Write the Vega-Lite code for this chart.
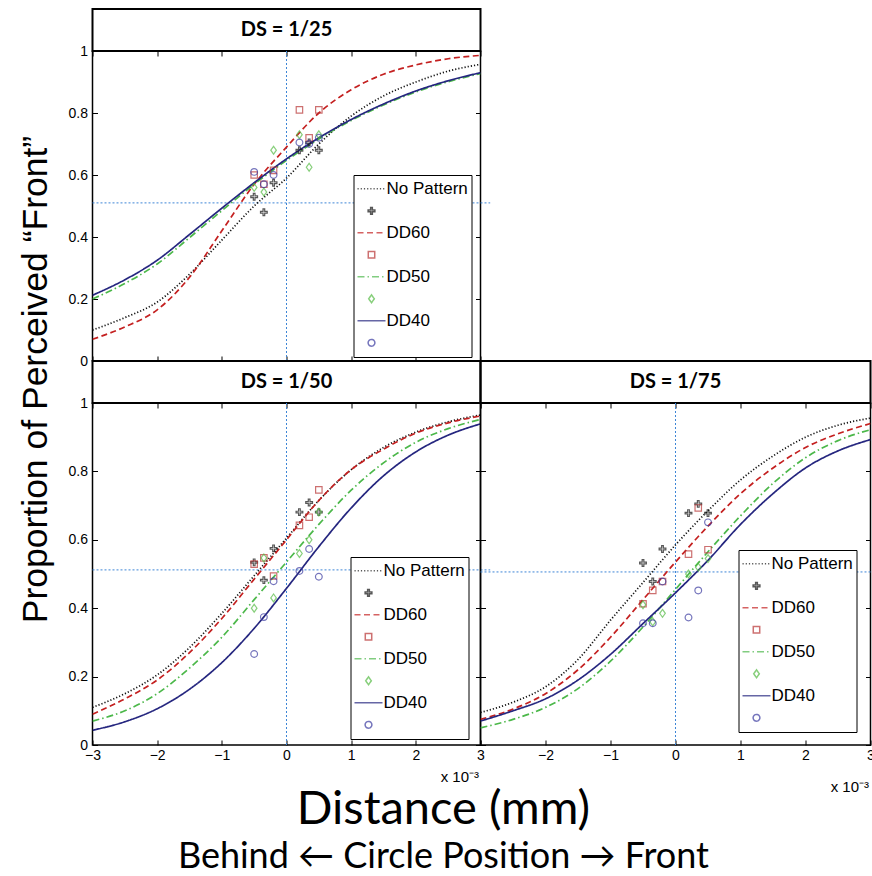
{
"$schema": "https://vega.github.io/schema/vega-lite/v6.json",
"background": "white",
"padding": {"left": 17.5, "top": 8, "right": 2, "bottom": 2},
"config": {
 "view": {"stroke": "black", "strokeWidth": 1.5},
 "axis": {"labelFont": "Liberation Sans", "labelFontSize": 14, "labelColor": "black", "tickColor": "black", "tickWidth": 1, "grid": false, "labelFlush": false, "labelOverlap": false, "domain": false},
 "legend": {"strokeColor": "black", "fillColor": "white", "padding": 3, "labelFont": "Liberation Sans", "labelFontSize": 17, "labelColor": "black", "labelOffset": 0, "symbolSize": 784, "symbolStrokeWidth": 1.5, "rowPadding": 0, "clipHeight": 21.6, "symbolFillColor": "transparent", "labelLimit": 300}
},
"datasets": {
 "curves": [
  {"p":"25","s":"No Pattern","x":-3,"y":0.10},{"p":"25","s":"No Pattern","x":-2.5,"y":0.14},{"p":"25","s":"No Pattern","x":-2,"y":0.19},{"p":"25","s":"No Pattern","x":-1.5,"y":0.28},{"p":"25","s":"No Pattern","x":-1,"y":0.39},{"p":"25","s":"No Pattern","x":-0.5,"y":0.50},{"p":"25","s":"No Pattern","x":0,"y":0.59},{"p":"25","s":"No Pattern","x":0.5,"y":0.70},{"p":"25","s":"No Pattern","x":1,"y":0.79},{"p":"25","s":"No Pattern","x":1.5,"y":0.855},{"p":"25","s":"No Pattern","x":2,"y":0.90},{"p":"25","s":"No Pattern","x":2.5,"y":0.935},{"p":"25","s":"No Pattern","x":3,"y":0.957},
  {"p":"25","s":"DD60","x":-3,"y":0.07},{"p":"25","s":"DD60","x":-2.5,"y":0.11},{"p":"25","s":"DD60","x":-2,"y":0.165},{"p":"25","s":"DD60","x":-1.5,"y":0.27},{"p":"25","s":"DD60","x":-1,"y":0.42},{"p":"25","s":"DD60","x":-0.5,"y":0.57},{"p":"25","s":"DD60","x":0,"y":0.69},{"p":"25","s":"DD60","x":0.5,"y":0.80},{"p":"25","s":"DD60","x":1,"y":0.875},{"p":"25","s":"DD60","x":1.5,"y":0.925},{"p":"25","s":"DD60","x":2,"y":0.955},{"p":"25","s":"DD60","x":2.5,"y":0.975},{"p":"25","s":"DD60","x":3,"y":0.986},
  {"p":"25","s":"DD50","x":-3,"y":0.20},{"p":"25","s":"DD50","x":-2.5,"y":0.25},{"p":"25","s":"DD50","x":-2,"y":0.313},{"p":"25","s":"DD50","x":-1.5,"y":0.398},{"p":"25","s":"DD50","x":-1,"y":0.485},{"p":"25","s":"DD50","x":-0.5,"y":0.57},{"p":"25","s":"DD50","x":0,"y":0.647},{"p":"25","s":"DD50","x":0.5,"y":0.716},{"p":"25","s":"DD50","x":1,"y":0.776},{"p":"25","s":"DD50","x":1.5,"y":0.826},{"p":"25","s":"DD50","x":2,"y":0.868},{"p":"25","s":"DD50","x":2.5,"y":0.901},{"p":"25","s":"DD50","x":3,"y":0.927},
  {"p":"25","s":"DD40","x":-3,"y":0.212},{"p":"25","s":"DD40","x":-2.5,"y":0.262},{"p":"25","s":"DD40","x":-2,"y":0.325},{"p":"25","s":"DD40","x":-1.5,"y":0.408},{"p":"25","s":"DD40","x":-1,"y":0.493},{"p":"25","s":"DD40","x":-0.5,"y":0.575},{"p":"25","s":"DD40","x":0,"y":0.652},{"p":"25","s":"DD40","x":0.5,"y":0.72},{"p":"25","s":"DD40","x":1,"y":0.779},{"p":"25","s":"DD40","x":1.5,"y":0.829},{"p":"25","s":"DD40","x":2,"y":0.871},{"p":"25","s":"DD40","x":2.5,"y":0.904},{"p":"25","s":"DD40","x":3,"y":0.93},
  {"p":"50","s":"No Pattern","x":-3,"y":0.11},{"p":"50","s":"No Pattern","x":-2.5,"y":0.15},{"p":"50","s":"No Pattern","x":-2,"y":0.205},{"p":"50","s":"No Pattern","x":-1.5,"y":0.285},{"p":"50","s":"No Pattern","x":-1,"y":0.385},{"p":"50","s":"No Pattern","x":-0.5,"y":0.495},{"p":"50","s":"No Pattern","x":0,"y":0.605},{"p":"50","s":"No Pattern","x":0.5,"y":0.715},{"p":"50","s":"No Pattern","x":1,"y":0.805},{"p":"50","s":"No Pattern","x":1.5,"y":0.87},{"p":"50","s":"No Pattern","x":2,"y":0.915},{"p":"50","s":"No Pattern","x":2.5,"y":0.945},{"p":"50","s":"No Pattern","x":3,"y":0.965},
  {"p":"50","s":"DD60","x":-3,"y":0.09},{"p":"50","s":"DD60","x":-2.5,"y":0.135},{"p":"50","s":"DD60","x":-2,"y":0.19},{"p":"50","s":"DD60","x":-1.5,"y":0.27},{"p":"50","s":"DD60","x":-1,"y":0.37},{"p":"50","s":"DD60","x":-0.5,"y":0.485},{"p":"50","s":"DD60","x":0,"y":0.60},{"p":"50","s":"DD60","x":0.5,"y":0.715},{"p":"50","s":"DD60","x":1,"y":0.805},{"p":"50","s":"DD60","x":1.5,"y":0.865},{"p":"50","s":"DD60","x":2,"y":0.912},{"p":"50","s":"DD60","x":2.5,"y":0.942},{"p":"50","s":"DD60","x":3,"y":0.962},
  {"p":"50","s":"DD50","x":-3,"y":0.07},{"p":"50","s":"DD50","x":-2.5,"y":0.10},{"p":"50","s":"DD50","x":-2,"y":0.15},{"p":"50","s":"DD50","x":-1.5,"y":0.225},{"p":"50","s":"DD50","x":-1,"y":0.315},{"p":"50","s":"DD50","x":-0.5,"y":0.425},{"p":"50","s":"DD50","x":0,"y":0.535},{"p":"50","s":"DD50","x":0.5,"y":0.645},{"p":"50","s":"DD50","x":1,"y":0.745},{"p":"50","s":"DD50","x":1.5,"y":0.825},{"p":"50","s":"DD50","x":2,"y":0.885},{"p":"50","s":"DD50","x":2.5,"y":0.925},{"p":"50","s":"DD50","x":3,"y":0.952},
  {"p":"50","s":"DD40","x":-3,"y":0.043},{"p":"50","s":"DD40","x":-2.5,"y":0.068},{"p":"50","s":"DD40","x":-2,"y":0.106},{"p":"50","s":"DD40","x":-1.5,"y":0.163},{"p":"50","s":"DD40","x":-1,"y":0.241},{"p":"50","s":"DD40","x":-0.5,"y":0.341},{"p":"50","s":"DD40","x":0,"y":0.458},{"p":"50","s":"DD40","x":0.5,"y":0.58},{"p":"50","s":"DD40","x":1,"y":0.693},{"p":"50","s":"DD40","x":1.5,"y":0.787},{"p":"50","s":"DD40","x":2,"y":0.857},{"p":"50","s":"DD40","x":2.5,"y":0.906},{"p":"50","s":"DD40","x":3,"y":0.939},
  {"p":"75","s":"No Pattern","x":-3,"y":0.095},{"p":"75","s":"No Pattern","x":-2.5,"y":0.125},{"p":"75","s":"No Pattern","x":-2,"y":0.17},{"p":"75","s":"No Pattern","x":-1.5,"y":0.25},{"p":"75","s":"No Pattern","x":-1,"y":0.365},{"p":"75","s":"No Pattern","x":-0.5,"y":0.475},{"p":"75","s":"No Pattern","x":0,"y":0.585},{"p":"75","s":"No Pattern","x":0.5,"y":0.685},{"p":"75","s":"No Pattern","x":1,"y":0.775},{"p":"75","s":"No Pattern","x":1.5,"y":0.845},{"p":"75","s":"No Pattern","x":2,"y":0.90},{"p":"75","s":"No Pattern","x":2.5,"y":0.935},{"p":"75","s":"No Pattern","x":3,"y":0.956},
  {"p":"75","s":"DD60","x":-3,"y":0.075},{"p":"75","s":"DD60","x":-2.5,"y":0.105},{"p":"75","s":"DD60","x":-2,"y":0.15},{"p":"75","s":"DD60","x":-1.5,"y":0.22},{"p":"75","s":"DD60","x":-1,"y":0.315},{"p":"75","s":"DD60","x":-0.5,"y":0.425},{"p":"75","s":"DD60","x":0,"y":0.535},{"p":"75","s":"DD60","x":0.5,"y":0.64},{"p":"75","s":"DD60","x":1,"y":0.735},{"p":"75","s":"DD60","x":1.5,"y":0.81},{"p":"75","s":"DD60","x":2,"y":0.87},{"p":"75","s":"DD60","x":2.5,"y":0.91},{"p":"75","s":"DD60","x":3,"y":0.94},
  {"p":"75","s":"DD50","x":-3,"y":0.05},{"p":"75","s":"DD50","x":-2.5,"y":0.075},{"p":"75","s":"DD50","x":-2,"y":0.11},{"p":"75","s":"DD50","x":-1.5,"y":0.165},{"p":"75","s":"DD50","x":-1,"y":0.245},{"p":"75","s":"DD50","x":-0.5,"y":0.345},{"p":"75","s":"DD50","x":0,"y":0.455},{"p":"75","s":"DD50","x":0.5,"y":0.565},{"p":"75","s":"DD50","x":1,"y":0.67},{"p":"75","s":"DD50","x":1.5,"y":0.765},{"p":"75","s":"DD50","x":2,"y":0.84},{"p":"75","s":"DD50","x":2.5,"y":0.89},{"p":"75","s":"DD50","x":3,"y":0.922},
  {"p":"75","s":"DD40","x":-3,"y":0.07},{"p":"75","s":"DD40","x":-2.5,"y":0.10},{"p":"75","s":"DD40","x":-2,"y":0.135},{"p":"75","s":"DD40","x":-1.5,"y":0.19},{"p":"75","s":"DD40","x":-1,"y":0.265},{"p":"75","s":"DD40","x":-0.5,"y":0.355},{"p":"75","s":"DD40","x":0,"y":0.445},{"p":"75","s":"DD40","x":0.5,"y":0.54},{"p":"75","s":"DD40","x":1,"y":0.645},{"p":"75","s":"DD40","x":1.5,"y":0.735},{"p":"75","s":"DD40","x":2,"y":0.81},{"p":"75","s":"DD40","x":2.5,"y":0.86},{"p":"75","s":"DD40","x":3,"y":0.893}
 ],
 "pts": [
  {"p":"25","s":"_np","x":-0.5,"y":0.53},{"p":"25","s":"_np","x":-0.35,"y":0.48},{"p":"25","s":"_np","x":-0.2,"y":0.575},{"p":"25","s":"_np","x":0.2,"y":0.68},{"p":"25","s":"_np","x":0.35,"y":0.705},{"p":"25","s":"_np","x":0.5,"y":0.68},
  {"p":"25","s":"_60","x":-0.5,"y":0.60},{"p":"25","s":"_60","x":-0.35,"y":0.57},{"p":"25","s":"_60","x":-0.2,"y":0.615},{"p":"25","s":"_60","x":0.2,"y":0.81},{"p":"25","s":"_60","x":0.35,"y":0.72},{"p":"25","s":"_60","x":0.5,"y":0.81},
  {"p":"25","s":"_50","x":-0.5,"y":0.56},{"p":"25","s":"_50","x":-0.35,"y":0.545},{"p":"25","s":"_50","x":-0.2,"y":0.68},{"p":"25","s":"_50","x":0.2,"y":0.73},{"p":"25","s":"_50","x":0.35,"y":0.625},{"p":"25","s":"_50","x":0.5,"y":0.73},
  {"p":"25","s":"_40","x":-0.5,"y":0.61},{"p":"25","s":"_40","x":-0.35,"y":0.57},{"p":"25","s":"_40","x":-0.2,"y":0.60},{"p":"25","s":"_40","x":0.2,"y":0.705},{"p":"25","s":"_40","x":0.35,"y":0.70},{"p":"25","s":"_40","x":0.5,"y":0.72},
  {"p":"50","s":"_np","x":-0.5,"y":0.534},{"p":"50","s":"_np","x":-0.35,"y":0.482},{"p":"50","s":"_np","x":-0.2,"y":0.575},{"p":"50","s":"_np","x":0.2,"y":0.681},{"p":"50","s":"_np","x":0.35,"y":0.709},{"p":"50","s":"_np","x":0.5,"y":0.681},
  {"p":"50","s":"_60","x":-0.5,"y":0.529},{"p":"50","s":"_60","x":-0.35,"y":0.547},{"p":"50","s":"_60","x":-0.2,"y":0.494},{"p":"50","s":"_60","x":0.2,"y":0.642},{"p":"50","s":"_60","x":0.35,"y":0.666},{"p":"50","s":"_60","x":0.5,"y":0.746},
  {"p":"50","s":"_50","x":-0.5,"y":0.40},{"p":"50","s":"_50","x":-0.35,"y":0.547},{"p":"50","s":"_50","x":-0.2,"y":0.43},{"p":"50","s":"_50","x":0.2,"y":0.56},{"p":"50","s":"_50","x":0.35,"y":0.60},{"p":"50","s":"_50","x":0.5,"y":0.681},
  {"p":"50","s":"_40","x":-0.5,"y":0.266},{"p":"50","s":"_40","x":-0.35,"y":0.374},{"p":"50","s":"_40","x":-0.2,"y":0.479},{"p":"50","s":"_40","x":0.2,"y":0.509},{"p":"50","s":"_40","x":0.35,"y":0.573},{"p":"50","s":"_40","x":0.5,"y":0.492},
  {"p":"75","s":"_np","x":-0.5,"y":0.532},{"p":"75","s":"_np","x":-0.35,"y":0.478},{"p":"75","s":"_np","x":-0.2,"y":0.573},{"p":"75","s":"_np","x":0.2,"y":0.678},{"p":"75","s":"_np","x":0.35,"y":0.705},{"p":"75","s":"_np","x":0.5,"y":0.678},
  {"p":"75","s":"_60","x":-0.5,"y":0.413},{"p":"75","s":"_60","x":-0.35,"y":0.452},{"p":"75","s":"_60","x":-0.2,"y":0.478},{"p":"75","s":"_60","x":0.2,"y":0.558},{"p":"75","s":"_60","x":0.35,"y":0.693},{"p":"75","s":"_60","x":0.5,"y":0.571},
  {"p":"75","s":"_50","x":-0.5,"y":0.41},{"p":"75","s":"_50","x":-0.35,"y":0.36},{"p":"75","s":"_50","x":-0.2,"y":0.385},{"p":"75","s":"_50","x":0.2,"y":0.50},{"p":"75","s":"_50","x":0.35,"y":0.52},{"p":"75","s":"_50","x":0.5,"y":0.545},
  {"p":"75","s":"_40","x":-0.5,"y":0.356},{"p":"75","s":"_40","x":-0.35,"y":0.356},{"p":"75","s":"_40","x":-0.2,"y":0.478},{"p":"75","s":"_40","x":0.2,"y":0.373},{"p":"75","s":"_40","x":0.35,"y":0.452},{"p":"75","s":"_40","x":0.5,"y":0.651}
 ]
},
"title": {"text": "Distance (mm)", "subtitle": "Behind ← Circle Position → Front", "orient": "bottom", "anchor": "middle", "dx": -3, "offset": -8, "font": "Lato", "fontSize": 47, "fontWeight": "normal", "color": "black", "subtitleFont": "Lato", "subtitleFontSize": 36, "subtitleColor": "black", "subtitlePadding": 6},
"columns": 2,
"spacing": 0,
"bounds": "flush",
"resolve": {"scale": {"color": "independent", "shape": "independent", "strokeDash": "independent"}},
"concat": [
 {"width": 388, "height": 42, "view": {"stroke": "black", "strokeWidth": 2}, "data": {"values": [{"t": "DS = 1/25"}]}, "mark": {"type": "text", "font": "Lato", "fontWeight": "bold", "fontSize": 20, "color": "black"}, "encoding": {"text": {"field": "t"}}},
 {"width": 390, "height": 42, "view": {"stroke": null}, "data": {"values": [{"t": ""}]}, "mark": {"type": "text"}, "encoding": {"text": {"field": "t"}}},
 {"width": 388, "height": 310,
  "layer": [
   {"data": {"values": [{"v": 0}]}, "mark": {"type": "rule", "color": "#3d85d6", "strokeDash": [2, 2], "strokeWidth": 1}, "encoding": {"x": {"field": "v", "type": "quantitative", "scale": {"domain": [-3, 3], "nice": false, "zero": false}, "axis": null}}},
   {"data": {"values": [{"v": 0.51, "a": -3, "b": 3.15}]}, "mark": {"type": "rule", "color": "#3d85d6", "strokeDash": [2, 2], "strokeWidth": 1}, "encoding": {"y": {"field": "v", "type": "quantitative", "scale": {"domain": [0, 1], "nice": false, "zero": false}, "axis": null}, "x": {"field": "a", "type": "quantitative", "axis": null}, "x2": {"field": "b"}}},
   {"data": {"name": "curves"}, "transform": [{"filter": "datum.p == '25'"}], "mark": {"type": "line", "interpolate": "monotone", "strokeWidth": 1.7, "clip": true},
    "encoding": {
     "x": {"field": "x", "type": "quantitative", "scale": {"domain": [-3, 3], "nice": false, "zero": false}, "axis": {"orient": "bottom", "values": [-3, -2, -1, 0, 1, 2, 3], "labels": false, "tickSize": -5, "title": null}},
     "y": {"field": "y", "type": "quantitative", "scale": {"domain": [0, 1], "nice": false, "zero": false}, "axis": {"orient": "left", "values": [0, 0.2, 0.4, 0.6, 0.8, 1], "format": "~g", "tickSize": -5, "labelPadding": 10, "title": null}},
     "color": {"field": "s", "type": "nominal", "scale": {"domain": ["No Pattern", "_np", "DD60", "_60", "DD50", "_50", "DD40", "_40"], "range": ["#111111", "#111111", "#c42020", "#b83434", "#4cb84a", "#55bb44", "#25267f", "#3a3aa0"]}, "legend": {"orient": "none", "legendX": 261, "legendY": 124, "title": null, "direction": "vertical", "labelExpr": "indexof(datum.label, '_') == 0 ? '' : datum.label"}},
     "strokeDash": {"field": "s", "type": "nominal", "scale": {"domain": ["No Pattern", "_np", "DD60", "_60", "DD50", "_50", "DD40", "_40"], "range": [[1.2, 2], [1, 0], [6, 3.5], [1, 0], [7, 3, 1.5, 3], [1, 0], [1, 0], [1, 0]]}, "legend": {"orient": "none", "legendX": 261, "legendY": 124, "title": null, "direction": "vertical", "labelExpr": "indexof(datum.label, '_') == 0 ? '' : datum.label"}}
    }},
   {"data": {"name": "pts"}, "transform": [{"filter": "datum.p == '25'"}], "mark": {"type": "point", "filled": false, "size": 784, "strokeWidth": 1.2},
    "encoding": {
     "x": {"field": "x", "type": "quantitative", "scale": {"domain": [-3, 3], "nice": false, "zero": false}, "axis": {"orient": "top", "values": [-3, -2, -1, 0, 1, 2, 3], "labels": false, "tickSize": -5, "title": null}},
     "y": {"field": "y", "type": "quantitative", "scale": {"domain": [0, 1], "nice": false, "zero": false}, "axis": {"orient": "right", "values": [0, 0.2, 0.4, 0.6, 0.8, 1], "labels": false, "tickSize": -5, "title": null}},
     "color": {"field": "s", "type": "nominal", "scale": {"domain": ["No Pattern", "_np", "DD60", "_60", "DD50", "_50", "DD40", "_40"], "range": ["#111111", "#111111", "#c42020", "#b83434", "#4cb84a", "#55bb44", "#25267f", "#3a3aa0"]}, "legend": {"orient": "none", "legendX": 261, "legendY": 124, "title": null, "direction": "vertical", "labelExpr": "indexof(datum.label, '_') == 0 ? '' : datum.label"}},
     "shape": {"field": "s", "type": "nominal", "scale": {"domain": ["No Pattern", "_np", "DD60", "_60", "DD50", "_50", "DD40", "_40"], "range": ["M-1,0L1,0", "M-0.24,-0.06L-0.06,-0.06L-0.06,-0.24L0.06,-0.24L0.06,-0.06L0.24,-0.06L0.24,0.06L0.06,0.06L0.06,0.24L-0.06,0.24L-0.06,0.06L-0.24,0.06Z", "M-1,0L1,0", "M-0.23,-0.23L0.23,-0.23L0.23,0.23L-0.23,0.23Z", "M-1,0L1,0", "M0,-0.28L0.2,0L0,0.28L-0.2,0Z", "M-1,0L1,0", "M-0.24,0A0.24,0.24,0,1,1,0.24,0A0.24,0.24,0,1,1,-0.24,0Z"]}, "legend": {"orient": "none", "legendX": 261, "legendY": 124, "title": null, "direction": "vertical", "labelExpr": "indexof(datum.label, '_') == 0 ? '' : datum.label"}}
    }}
  ],
  "resolve": {"axis": {"x": "independent", "y": "independent"}}
 },
 {"width": 390, "height": 310, "view": {"stroke": null}, "data": {"values": [{"t": ""}]}, "mark": {"type": "text"}, "encoding": {"text": {"field": "t"}}},
 {"width": 388, "height": 42, "view": {"stroke": "black", "strokeWidth": 2}, "data": {"values": [{"t": "DS = 1/50"}]}, "mark": {"type": "text", "font": "Lato", "fontWeight": "bold", "fontSize": 20, "color": "black"}, "encoding": {"text": {"field": "t"}}},
 {"width": 390, "height": 42, "view": {"stroke": "black", "strokeWidth": 2}, "data": {"values": [{"t": "DS = 1/75"}]}, "mark": {"type": "text", "font": "Lato", "fontWeight": "bold", "fontSize": 20, "color": "black"}, "encoding": {"text": {"field": "t"}}},
 {"width": 388, "height": 342,
  "layer": [
   {"data": {"values": [{"v": 0}]}, "mark": {"type": "rule", "color": "#3d85d6", "strokeDash": [2, 2], "strokeWidth": 1}, "encoding": {"x": {"field": "v", "type": "quantitative", "scale": {"domain": [-3, 3], "nice": false, "zero": false}, "axis": null}}},
   {"data": {"values": [{"v": 0.512, "a": -3, "b": 3.15}]}, "mark": {"type": "rule", "color": "#3d85d6", "strokeDash": [2, 2], "strokeWidth": 1}, "encoding": {"y": {"field": "v", "type": "quantitative", "scale": {"domain": [0, 1], "nice": false, "zero": false}, "axis": null}, "x": {"field": "a", "type": "quantitative", "axis": null}, "x2": {"field": "b"}}},
   {"data": {"name": "curves"}, "transform": [{"filter": "datum.p == '50'"}], "mark": {"type": "line", "interpolate": "monotone", "strokeWidth": 1.7, "clip": true},
    "encoding": {
     "x": {"field": "x", "type": "quantitative", "scale": {"domain": [-3, 3], "nice": false, "zero": false}, "axis": {"orient": "bottom", "values": [-3, -2, -1, 0, 1, 2, 3], "labels": true, "tickSize": -5, "labelPadding": 8, "title": "x 10⁻³", "titleX": 386, "titleY": 31, "titleAlign": "right", "titleBaseline": "middle", "titleFont": "Liberation Sans", "titleFontSize": 15, "titleFontWeight": "normal", "titleColor": "black"}},
     "y": {"field": "y", "type": "quantitative", "scale": {"domain": [0, 1], "nice": false, "zero": false}, "axis": {"orient": "left", "values": [0, 0.2, 0.4, 0.6, 0.8, 1], "format": "~g", "tickSize": -5, "labelPadding": 10, "title": "Proportion of Perceived “Front”", "titleX": -57, "titleY": -24, "titleAngle": -90, "titleAlign": "center", "titleBaseline": "middle", "titleFont": "Liberation Sans", "titleFontSize": 35.5, "titleFontWeight": "normal", "titleColor": "black"}},
     "color": {"field": "s", "type": "nominal", "scale": {"domain": ["No Pattern", "_np", "DD60", "_60", "DD50", "_50", "DD40", "_40"], "range": ["#111111", "#111111", "#c42020", "#b83434", "#4cb84a", "#55bb44", "#25267f", "#3a3aa0"]}, "legend": {"orient": "none", "legendX": 258, "legendY": 154, "title": null, "direction": "vertical", "labelExpr": "indexof(datum.label, '_') == 0 ? '' : datum.label"}},
     "strokeDash": {"field": "s", "type": "nominal", "scale": {"domain": ["No Pattern", "_np", "DD60", "_60", "DD50", "_50", "DD40", "_40"], "range": [[1.2, 2], [1, 0], [6, 3.5], [1, 0], [7, 3, 1.5, 3], [1, 0], [1, 0], [1, 0]]}, "legend": {"orient": "none", "legendX": 258, "legendY": 154, "title": null, "direction": "vertical", "labelExpr": "indexof(datum.label, '_') == 0 ? '' : datum.label"}}
    }},
   {"data": {"name": "pts"}, "transform": [{"filter": "datum.p == '50'"}], "mark": {"type": "point", "filled": false, "size": 784, "strokeWidth": 1.2},
    "encoding": {
     "x": {"field": "x", "type": "quantitative", "scale": {"domain": [-3, 3], "nice": false, "zero": false}, "axis": {"orient": "top", "values": [-3, -2, -1, 0, 1, 2, 3], "labels": false, "tickSize": -5, "title": null}},
     "y": {"field": "y", "type": "quantitative", "scale": {"domain": [0, 1], "nice": false, "zero": false}, "axis": {"orient": "right", "values": [0, 0.2, 0.4, 0.6, 0.8, 1], "labels": false, "tickSize": -5, "title": null}},
     "color": {"field": "s", "type": "nominal", "scale": {"domain": ["No Pattern", "_np", "DD60", "_60", "DD50", "_50", "DD40", "_40"], "range": ["#111111", "#111111", "#c42020", "#b83434", "#4cb84a", "#55bb44", "#25267f", "#3a3aa0"]}, "legend": {"orient": "none", "legendX": 258, "legendY": 154, "title": null, "direction": "vertical", "labelExpr": "indexof(datum.label, '_') == 0 ? '' : datum.label"}},
     "shape": {"field": "s", "type": "nominal", "scale": {"domain": ["No Pattern", "_np", "DD60", "_60", "DD50", "_50", "DD40", "_40"], "range": ["M-1,0L1,0", "M-0.24,-0.06L-0.06,-0.06L-0.06,-0.24L0.06,-0.24L0.06,-0.06L0.24,-0.06L0.24,0.06L0.06,0.06L0.06,0.24L-0.06,0.24L-0.06,0.06L-0.24,0.06Z", "M-1,0L1,0", "M-0.23,-0.23L0.23,-0.23L0.23,0.23L-0.23,0.23Z", "M-1,0L1,0", "M0,-0.28L0.2,0L0,0.28L-0.2,0Z", "M-1,0L1,0", "M-0.24,0A0.24,0.24,0,1,1,0.24,0A0.24,0.24,0,1,1,-0.24,0Z"]}, "legend": {"orient": "none", "legendX": 258, "legendY": 154, "title": null, "direction": "vertical", "labelExpr": "indexof(datum.label, '_') == 0 ? '' : datum.label"}}
    }}
  ],
  "resolve": {"axis": {"x": "independent", "y": "independent"}}
 },
 {"width": 390, "height": 342,
  "layer": [
   {"data": {"values": [{"v": 0}]}, "mark": {"type": "rule", "color": "#3d85d6", "strokeDash": [2, 2], "strokeWidth": 1}, "encoding": {"x": {"field": "v", "type": "quantitative", "scale": {"domain": [-3, 3], "nice": false, "zero": false}, "axis": null}}},
   {"data": {"values": [{"v": 0.506, "a": -3, "b": 3.03}]}, "mark": {"type": "rule", "color": "#3d85d6", "strokeDash": [2, 2], "strokeWidth": 1}, "encoding": {"y": {"field": "v", "type": "quantitative", "scale": {"domain": [0, 1], "nice": false, "zero": false}, "axis": null}, "x": {"field": "a", "type": "quantitative", "axis": null}, "x2": {"field": "b"}}},
   {"data": {"name": "curves"}, "transform": [{"filter": "datum.p == '75'"}], "mark": {"type": "line", "interpolate": "monotone", "strokeWidth": 1.7, "clip": true},
    "encoding": {
     "x": {"field": "x", "type": "quantitative", "scale": {"domain": [-3, 3], "nice": false, "zero": false}, "axis": {"orient": "bottom", "values": [-3, -2, -1, 0, 1, 2, 3], "labels": true, "labelExpr": "datum.value == -3 ? '' : datum.label", "tickSize": -5, "labelPadding": 8, "title": "x 10⁻³", "titleX": 388, "titleY": 41, "titleAlign": "right", "titleBaseline": "middle", "titleFont": "Liberation Sans", "titleFontSize": 15, "titleFontWeight": "normal", "titleColor": "black"}},
     "y": {"field": "y", "type": "quantitative", "scale": {"domain": [0, 1], "nice": false, "zero": false}, "axis": {"orient": "left", "values": [0, 0.2, 0.4, 0.6, 0.8, 1], "labels": false, "tickSize": -5, "title": null}},
     "color": {"field": "s", "type": "nominal", "scale": {"domain": ["No Pattern", "_np", "DD60", "_60", "DD50", "_50", "DD40", "_40"], "range": ["#111111", "#111111", "#c42020", "#b83434", "#4cb84a", "#55bb44", "#25267f", "#3a3aa0"]}, "legend": {"orient": "none", "legendX": 258, "legendY": 147, "title": null, "direction": "vertical", "labelExpr": "indexof(datum.label, '_') == 0 ? '' : datum.label"}},
     "strokeDash": {"field": "s", "type": "nominal", "scale": {"domain": ["No Pattern", "_np", "DD60", "_60", "DD50", "_50", "DD40", "_40"], "range": [[1.2, 2], [1, 0], [6, 3.5], [1, 0], [7, 3, 1.5, 3], [1, 0], [1, 0], [1, 0]]}, "legend": {"orient": "none", "legendX": 258, "legendY": 147, "title": null, "direction": "vertical", "labelExpr": "indexof(datum.label, '_') == 0 ? '' : datum.label"}}
    }},
   {"data": {"name": "pts"}, "transform": [{"filter": "datum.p == '75'"}], "mark": {"type": "point", "filled": false, "size": 784, "strokeWidth": 1.2},
    "encoding": {
     "x": {"field": "x", "type": "quantitative", "scale": {"domain": [-3, 3], "nice": false, "zero": false}, "axis": {"orient": "top", "values": [-3, -2, -1, 0, 1, 2, 3], "labels": false, "tickSize": -5, "title": null}},
     "y": {"field": "y", "type": "quantitative", "scale": {"domain": [0, 1], "nice": false, "zero": false}, "axis": {"orient": "right", "values": [0, 0.2, 0.4, 0.6, 0.8, 1], "labels": false, "tickSize": -5, "title": null}},
     "color": {"field": "s", "type": "nominal", "scale": {"domain": ["No Pattern", "_np", "DD60", "_60", "DD50", "_50", "DD40", "_40"], "range": ["#111111", "#111111", "#c42020", "#b83434", "#4cb84a", "#55bb44", "#25267f", "#3a3aa0"]}, "legend": {"orient": "none", "legendX": 258, "legendY": 147, "title": null, "direction": "vertical", "labelExpr": "indexof(datum.label, '_') == 0 ? '' : datum.label"}},
     "shape": {"field": "s", "type": "nominal", "scale": {"domain": ["No Pattern", "_np", "DD60", "_60", "DD50", "_50", "DD40", "_40"], "range": ["M-1,0L1,0", "M-0.24,-0.06L-0.06,-0.06L-0.06,-0.24L0.06,-0.24L0.06,-0.06L0.24,-0.06L0.24,0.06L0.06,0.06L0.06,0.24L-0.06,0.24L-0.06,0.06L-0.24,0.06Z", "M-1,0L1,0", "M-0.23,-0.23L0.23,-0.23L0.23,0.23L-0.23,0.23Z", "M-1,0L1,0", "M0,-0.28L0.2,0L0,0.28L-0.2,0Z", "M-1,0L1,0", "M-0.24,0A0.24,0.24,0,1,1,0.24,0A0.24,0.24,0,1,1,-0.24,0Z"]}, "legend": {"orient": "none", "legendX": 258, "legendY": 147, "title": null, "direction": "vertical", "labelExpr": "indexof(datum.label, '_') == 0 ? '' : datum.label"}}
    }}
  ],
  "resolve": {"axis": {"x": "independent", "y": "independent"}}
 }
]
}
